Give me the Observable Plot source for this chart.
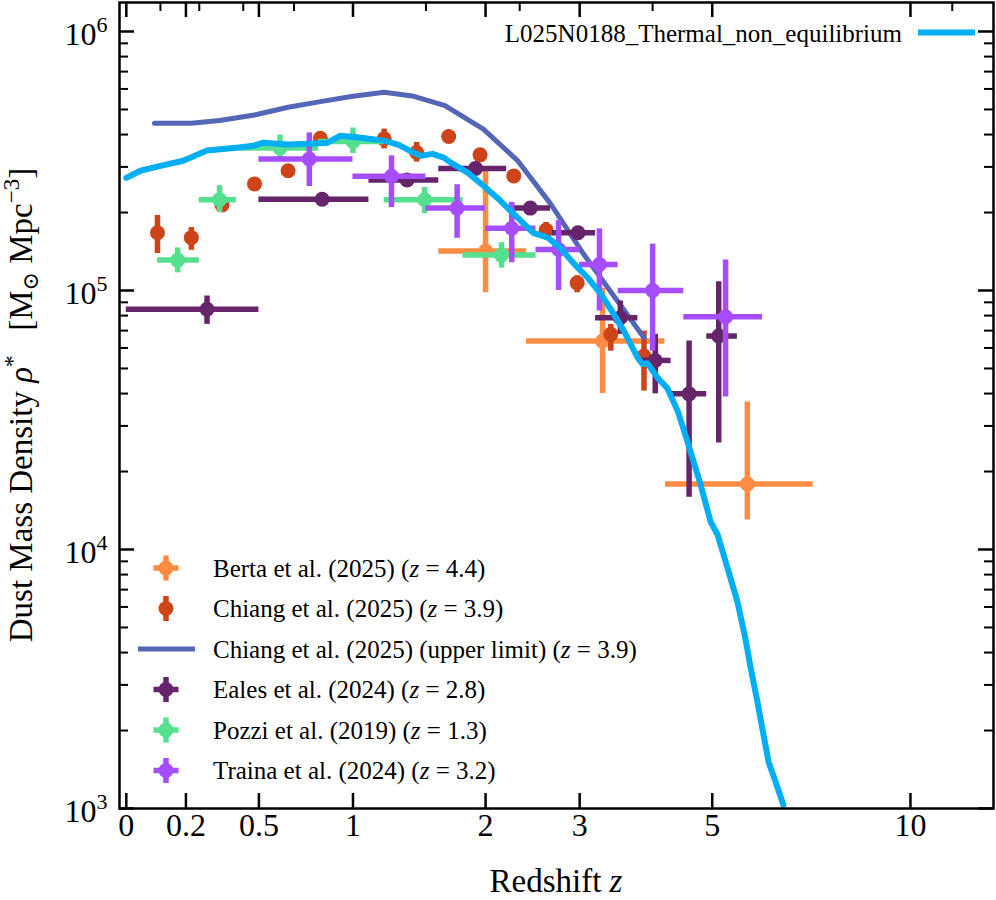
<!DOCTYPE html>
<html>
<head>
<meta charset="utf-8">
<script src="https://cdn.jsdelivr.net/npm/d3@7"></script>
<script src="https://cdn.jsdelivr.net/npm/@observablehq/plot@0.6"></script>
<style>
  body { margin: 0; background: #fff; }
  #chart { width: 996px; height: 900px; }
</style>
</head>
<body>
<div id="chart"></div>
<script>
// ---------------- DATA ----------------
// Simulation: L025N0188_Thermal_non_equilibrium
const simZ = [0, 0.044, 0.11, 0.19, 0.28, 0.40, 0.475, 0.52, 0.64, 0.74, 0.85, 0.925, 1.05, 1.20, 1.30, 1.41, 1.46, 1.55, 1.64, 1.70, 1.84, 1.98, 2.14, 2.34, 2.47, 2.63, 2.77, 2.93, 3.10, 3.27, 3.44, 3.58, 3.78, 3.85, 3.92, 4.08, 4.23, 4.40, 4.56, 4.79, 4.97, 5.10, 5.29, 5.48, 5.64, 5.75, 5.89, 6.02, 6.13, 6.28, 6.46];
const simRho = [2.72e5, 2.90e5, 3.03e5, 3.17e5, 3.47e5, 3.56e5, 3.62e5, 3.72e5, 3.66e5, 3.69e5, 3.72e5, 3.96e5, 3.89e5, 3.79e5, 3.65e5, 3.40e5, 3.31e5, 3.37e5, 3.26e5, 3.11e5, 2.85e5, 2.54e5, 2.22e5, 1.86e5, 1.67e5, 1.60e5, 1.46e5, 1.27e5, 1.12e5, 9.69e4, 8.11e4, 6.97e4, 5.48e4, 5.20e4, 5.24e4, 4.59e4, 4.20e4, 3.42e4, 2.62e4, 1.78e4, 1.28e4, 1.14e4, 8.44e3, 6.29e3, 4.53e3, 3.47e3, 2.58e3, 1.92e3, 1.51e3, 1.27e3, 1.03e3];

// Chiang et al. (2025) upper limit line
const ulZ = [0.09, 0.22, 0.33, 0.48, 0.64, 0.81, 1.00, 1.20, 1.41, 1.65, 1.98, 2.31, 2.66, 3.05, 3.49, 3.87];
const ulRho = [4.42e5, 4.42e5, 4.53e5, 4.76e5, 5.10e5, 5.36e5, 5.62e5, 5.83e5, 5.62e5, 5.17e5, 4.20e5, 3.17e5, 2.16e5, 1.38e5, 9.11e4, 6.57e4];

// Berta et al. (2025)
const bertaZ = [2.00, 3.29, 5.68];
const bertaZlo = [1.60, 2.40, 4.20];
const bertaZhi = [2.40, 4.19, 7.17];
const bertaRho = [1.42e5, 6.38e4, 1.79e4];
const bertaLo = [9.8e4, 4.0e4, 1.30e4];
const bertaHi = [2.90e5, 1.02e5, 3.71e4];

// Chiang et al. (2025)
const chiangZ = [0.10, 0.22, 0.34, 0.48, 0.64, 0.81, 1.00, 1.20, 1.43, 1.68, 1.95, 2.27, 2.61, 2.97, 3.40, 3.87];
const chiangRho = [1.67e5, 1.60e5, 2.14e5, 2.58e5, 2.90e5, 3.87e5, 3.79e5, 3.85e5, 3.41e5, 3.93e5, 3.34e5, 2.77e5, 1.71e5, 1.07e5, 6.77e4, 5.58e4];
const chiangLo = [1.39e5, 1.43e5, 2.02e5, 2.48e5, 2.80e5, 3.72e5, 3.62e5, 3.52e5, 3.13e5, 3.80e5, 3.22e5, 2.64e5, 1.60e5, 9.8e4, 5.83e4, 4.09e4];
const chiangHi = [1.95e5, 1.75e5, 2.27e5, 2.68e5, 3.00e5, 4.03e5, 3.96e5, 4.20e5, 3.73e5, 4.06e5, 3.46e5, 2.91e5, 1.83e5, 1.14e5, 7.40e4, 6.97e4];

// Eales et al. (2024)
const ealesZ = [0.28, 0.82, 1.36, 1.91, 2.44, 2.98, 3.53, 4.04, 4.59, 5.12];
const ealesZlo = [0.00, 0.50, 1.10, 1.60, 2.24, 2.68, 3.20, 3.82, 4.29, 4.90];
const ealesZhi = [0.50, 1.10, 1.60, 2.20, 2.66, 3.20, 3.78, 4.29, 4.90, 5.48];
const ealesRho = [8.46e4, 2.25e5, 2.67e5, 2.96e5, 2.08e5, 1.67e5, 7.85e4, 5.37e4, 3.99e4, 6.67e4];
const ealesLo = [7.40e4, 2.15e5, 2.55e5, 2.83e5, 1.98e5, 1.60e5, 6.77e4, 3.99e4, 1.59e4, 2.58e4];
const ealesHi = [9.52e4, 2.35e5, 2.79e5, 3.09e5, 2.18e5, 1.75e5, 9.11e4, 6.77e4, 6.38e4, 1.08e5];

// Pozzi et al. (2019)
const pozziZ = [0.17, 0.33, 0.60, 1.00, 1.49, 2.15];
const pozziZlo = [0.10, 0.25, 0.40, 0.80, 1.20, 1.80];
const pozziZhi = [0.25, 0.40, 0.80, 1.20, 1.80, 2.50];
const pozziRho = [1.31e5, 2.24e5, 3.55e5, 3.76e5, 2.24e5, 1.37e5];
const pozziLo = [1.17e5, 2.00e5, 3.14e5, 3.38e5, 1.98e5, 1.22e5];
const pozziHi = [1.46e5, 2.54e5, 3.98e5, 4.24e5, 2.50e5, 1.53e5];

// Traina et al. (2024)
const trainaZ = [0.75, 1.25, 1.75, 2.25, 2.75, 3.25, 4.00, 5.25];
const trainaZlo = [0.50, 1.00, 1.50, 2.00, 2.50, 3.00, 3.50, 4.50];
const trainaZhi = [1.00, 1.50, 2.00, 2.50, 3.00, 3.50, 4.50, 6.00];
const trainaRho = [3.22e5, 2.76e5, 2.08e5, 1.74e5, 1.44e5, 1.26e5, 1.00e5, 7.92e4];
const trainaLo = [2.52e5, 2.09e5, 1.59e5, 1.28e5, 1.00e5, 8.33e4, 5.83e4, 3.88e4];
const trainaHi = [4.06e5, 3.31e5, 2.56e5, 2.19e5, 1.86e5, 1.73e5, 1.51e5, 1.31e5];

// Ticks
const xMajor = [0, 0.2, 0.5, 1, 2, 3, 5, 10];
const xLabels = ["0", "0.2", "0.5", "1", "2", "3", "5", "10"];
const xTopMinor = [0.11, 0.25, 0.43, 0.67, 1.5, 2.33, 4.0, 11.5];
const yMajor = [1e3, 1e4, 1e5, 1e6];
const yExp = ["3", "4", "5", "6"];
const yMinor = [2e3, 3e3, 4e3, 5e3, 6e3, 7e3, 8e3, 9e3,
                2e4, 3e4, 4e4, 5e4, 6e4, 7e4, 8e4, 9e4,
                2e5, 3e5, 4e5, 5e5, 6e5, 7e5, 8e5, 9e5];

// Legend
const legendNames = ["Berta et al. (2025)", "Chiang et al. (2025)", "Chiang et al. (2025) (upper limit)", "Eales et al. (2024)", "Pozzi et al. (2019)", "Traina et al. (2024)"];
const legendZ = ["4.4", "3.9", "3.9", "2.8", "1.3", "3.2"];
const simName = "L025N0188_Thermal_non_equilibrium";

// ---------------- STYLE ----------------
const C = {berta: "#ff8c42", chiang: "#cc4418", ul: "#5566b6", eales: "#66246b", pozzi: "#55e08f", traina: "#a64dff", sim: "#00aef5"};
const W = 996, H = 900, mL = 119, mR = 3, mT = 2, mB = 92;
const iW = W - mL - mR, iH = H - mT - mB;
const FONT = "'Liberation Serif', 'Times New Roman', Times, serif";

function rows(z, zlo, zhi, rho, lo, hi) {
  return z.map((d, i) => ({z: d, zlo: zlo ? zlo[i] : d, zhi: zhi ? zhi[i] : d, rho: rho[i], lo: lo[i], hi: hi[i]}));
}
function errMarks(data, color, hasX) {
  const m = [];
  if (hasX) m.push(Plot.ruleY(data, {y: "rho", x1: d => 1 + d.zlo, x2: d => 1 + d.zhi, stroke: color, strokeWidth: 5.5, clip: true}));
  m.push(Plot.ruleX(data, {x: d => 1 + d.z, y1: "lo", y2: "hi", stroke: color, strokeWidth: 5.5, clip: true}));
  m.push(Plot.dot(data, {x: d => 1 + d.z, y: "rho", r: 7.5, fill: color, stroke: "none", clip: true}));
  return m;
}

const berta = rows(bertaZ, bertaZlo, bertaZhi, bertaRho, bertaLo, bertaHi);
const chiang = rows(chiangZ, null, null, chiangRho, chiangLo, chiangHi);
const eales = rows(ealesZ, ealesZlo, ealesZhi, ealesRho, ealesLo, ealesHi);
const pozzi = rows(pozziZ, pozziZlo, pozziZhi, pozziRho, pozziLo, pozziHi);
const traina = rows(trainaZ, trainaZlo, trainaZhi, trainaRho, trainaLo, trainaHi);
const ul = ulZ.map((z, i) => ({z, rho: ulRho[i]}));
const sim = simZ.map((z, i) => ({z, rho: simRho[i]}));

const svg = Plot.plot({
  width: W, height: H,
  marginLeft: mL, marginRight: mR, marginTop: mT, marginBottom: mB,
  x: {type: "log", domain: [0.9794, 14.18], axis: null},
  y: {type: "log", domain: [1000, 1.294e6], axis: null},
  style: {fontFamily: FONT, background: "white", color: "black", overflow: "visible"},
  marks: [
    ...errMarks(berta, C.berta, true),
    ...errMarks(chiang, C.chiang, false),
    Plot.line(ul, {x: d => 1 + d.z, y: "rho", stroke: C.ul, strokeWidth: 5, strokeLinejoin: "round", clip: true}),
    ...errMarks(eales, C.eales, true),
    ...errMarks(pozzi, C.pozzi, true),
    ...errMarks(traina, C.traina, true),
    Plot.line(sim, {x: d => 1 + d.z, y: "rho", stroke: C.sim, strokeWidth: 6, strokeLinejoin: "round", clip: true}),
    // ticks (inward)
    Plot.tickX(xMajor, {x: d => 1 + d, insetTop: iH - 15, stroke: "black", strokeWidth: 2.5}),
    Plot.tickX(xMajor, {x: d => 1 + d, insetBottom: iH - 15, stroke: "black", strokeWidth: 2.5}),
    Plot.tickX(xTopMinor, {x: d => 1 + d, insetBottom: iH - 9, stroke: "black", strokeWidth: 2}),
    Plot.tickY(yMajor, {y: d => d, insetRight: iW - 15, stroke: "black", strokeWidth: 2.5}),
    Plot.tickY(yMajor, {y: d => d, insetLeft: iW - 15, stroke: "black", strokeWidth: 2.5}),
    Plot.tickY(yMinor, {y: d => d, insetRight: iW - 9, stroke: "black", strokeWidth: 2}),
    Plot.tickY(yMinor, {y: d => d, insetLeft: iW - 9, stroke: "black", strokeWidth: 2}),
    Plot.frame({stroke: "black", strokeWidth: 2.5}),
    // tick labels
    Plot.text(xMajor, {x: d => 1 + d, frameAnchor: "bottom", dy: 27, text: (d, i) => xLabels[i], fontSize: 32, fill: "black"}),
    Plot.text(yMajor, {y: d => d, frameAnchor: "left", dx: -23, dy: 3, textAnchor: "end", text: () => "10", fontSize: 32, fill: "black"}),
    Plot.text(yMajor, {y: d => d, frameAnchor: "left", dx: -23, dy: -7, textAnchor: "start", text: (d, i) => yExp[i], fontSize: 22, fill: "black"})
  ]
});

document.getElementById("chart").appendChild(svg);

// ---------------- labels & legends ----------------
const s = d3.select(svg);

// x label
const xl = s.append("text").attr("x", mL + iW / 2).attr("y", 892).attr("text-anchor", "middle")
  .attr("font-family", FONT).attr("font-size", 33).attr("fill", "black");
xl.append("tspan").text("Redshift ");
xl.append("tspan").attr("font-style", "italic").text("z");

// y label
const yl = s.append("text").attr("transform", `translate(32,${mT + iH / 2}) rotate(-90)`).attr("text-anchor", "middle")
  .attr("font-family", FONT).attr("font-size", 33).attr("fill", "black").style("white-space", "pre");
yl.append("tspan").text("Dust Mass Density ");
yl.append("tspan").attr("font-style", "italic").text("\u03C1");
yl.append("tspan").attr("font-size", 23).attr("dy", -12).text("*");
yl.append("tspan").attr("dy", 12).text("\u2002 [M");
yl.append("tspan").attr("font-size", 22).attr("dy", 6).attr("font-family", "'DejaVu Serif', serif").text("\u2299");
yl.append("tspan").attr("dy", -6).text(" Mpc");
yl.append("tspan").attr("font-size", 23).attr("dy", -13).text("\u22123");
yl.append("tspan").attr("dy", 13).text("]");

// top-right legend
s.append("line").attr("x1", 918).attr("x2", 975).attr("y1", 32.5).attr("y2", 32.5)
  .attr("stroke", C.sim).attr("stroke-width", 6);
s.append("text").attr("x", 902).attr("y", 42).attr("text-anchor", "end")
  .attr("font-family", FONT).attr("font-size", 25).attr("fill", "black").text(simName);

// bottom-left legend
const legColors = [C.berta, C.chiang, C.ul, C.eales, C.pozzi, C.traina];
const legKind = ["cross", "vbar", "line", "cross", "cross", "cross"];
legendNames.forEach((name, i) => {
  const cy = 568 + i * 40.5, cx = 166, col = legColors[i];
  const g = s.append("g");
  if (legKind[i] === "line") {
    g.append("line").attr("x1", 138).attr("x2", 195).attr("y1", cy).attr("y2", cy).attr("stroke", col).attr("stroke-width", 5);
  } else {
    if (legKind[i] === "cross")
      g.append("line").attr("x1", cx - 12.5).attr("x2", cx + 12.5).attr("y1", cy).attr("y2", cy).attr("stroke", col).attr("stroke-width", 5.5);
    g.append("line").attr("x1", cx).attr("x2", cx).attr("y1", cy - 12.5).attr("y2", cy + 12.5).attr("stroke", col).attr("stroke-width", 5.5);
    g.append("circle").attr("cx", cx).attr("cy", cy).attr("r", 7.5).attr("fill", col);
  }
  const t = g.append("text").attr("x", 213).attr("y", cy + 8.5).attr("text-anchor", "start")
    .attr("font-family", FONT).attr("font-size", 25).attr("fill", "black").style("white-space", "pre");
  t.append("tspan").text(name + " (");
  t.append("tspan").attr("font-style", "italic").text("z");
  t.append("tspan").text(" = " + legendZ[i] + ")");
});
</script>
</body>
</html>
